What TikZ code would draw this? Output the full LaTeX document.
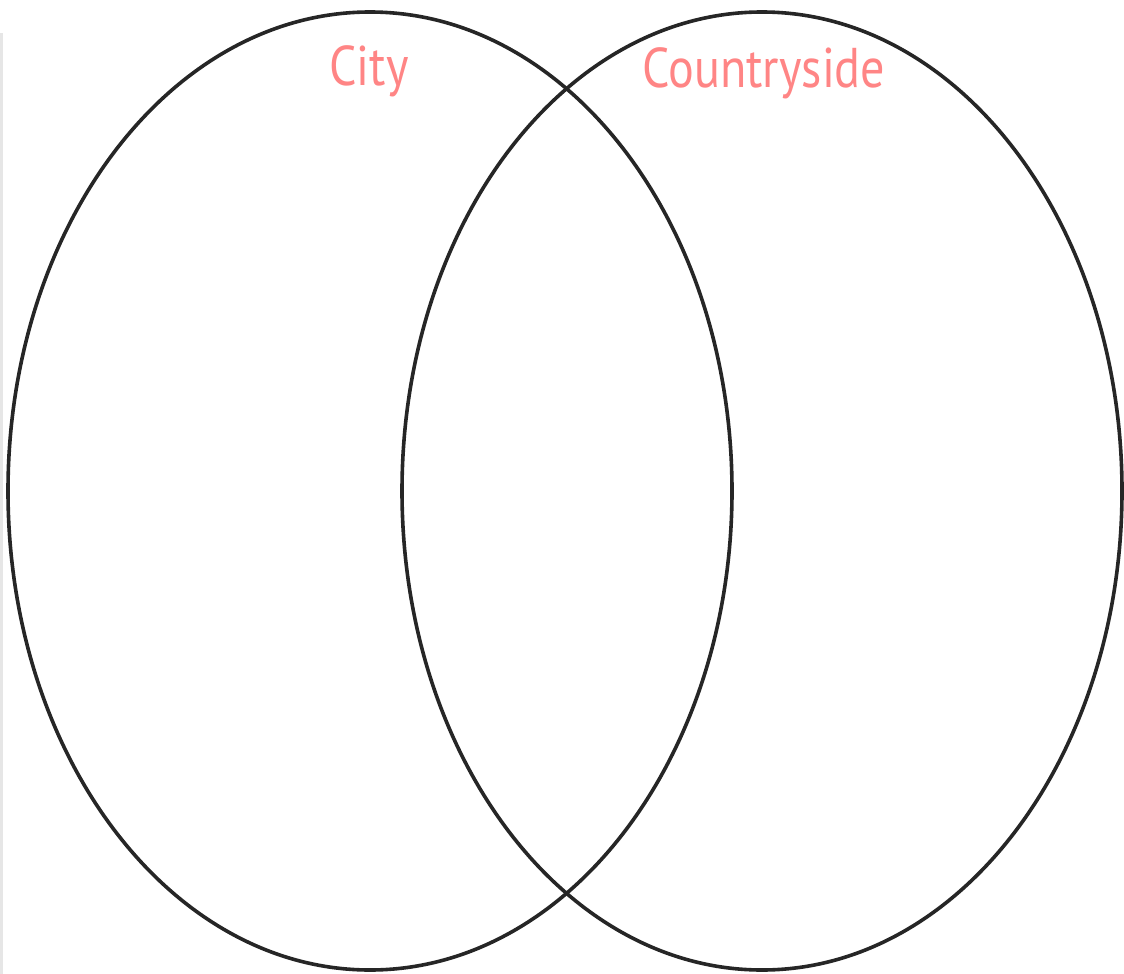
\documentclass[tikz,border=0pt]{standalone}
\usepackage{fontspec}
\setmainfont{PT Sans}
\definecolor{labelpink}{HTML}{FF8585}
\definecolor{edgegray}{HTML}{E6E6E6}

\begin{document}
\begin{tikzpicture}[
    x=0.5pt, y=-0.5pt,
    ring/.style={line width=1.8pt, black!85},
    setlabel/.style={text=labelpink, font=\fontsize{28}{30}\selectfont, anchor=base, inner sep=0pt, xscale=0.86}
]

% Canvas
\useasboundingbox (0,0) rectangle (1124,974);
\fill[white] (0,0) rectangle (1124,974);
\fill[edgegray] (0,33) rectangle (3,974);

% Set centres
\coordinate (cityC) at (370,491);
\coordinate (countryC) at (762,491);

% Ellipses
\draw[ring] (cityC) ellipse (362 and 479);
\draw[ring] (countryC) ellipse (360 and 479);

% Labels
\node[setlabel] (city) at (369,86) {City};
\node[setlabel] (country) at (764,88) {Countryside};

\end{tikzpicture}
\end{document}
